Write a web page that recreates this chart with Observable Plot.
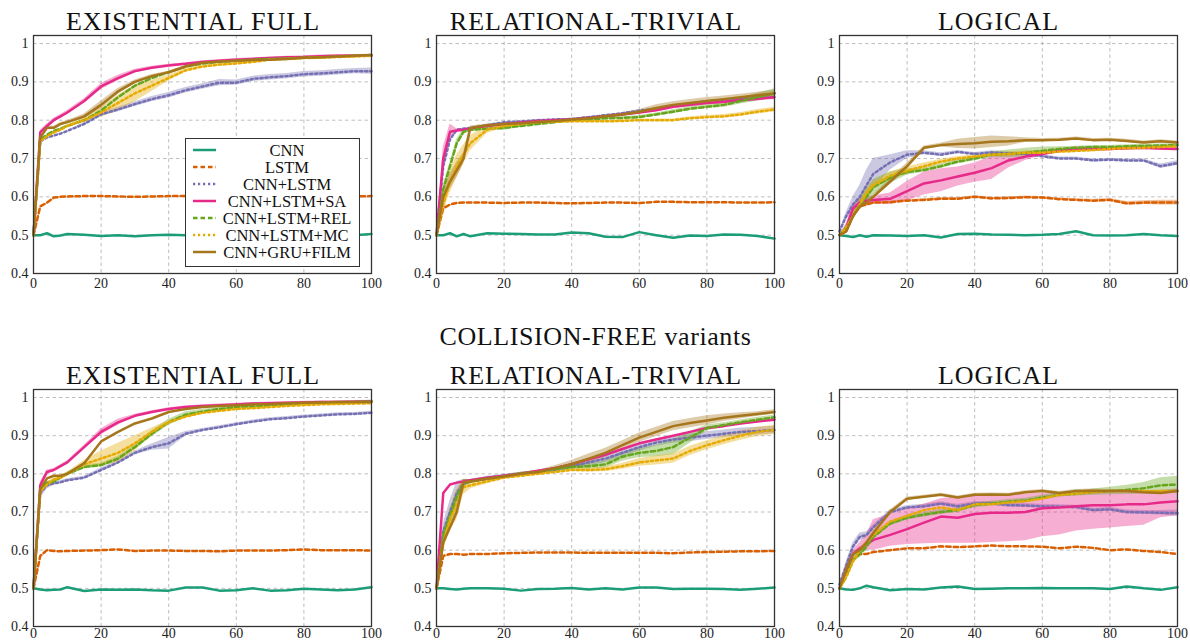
<!DOCTYPE html>
<html><head><meta charset="utf-8">
<script src="https://cdn.jsdelivr.net/npm/d3@7"></script>
<script src="https://cdn.jsdelivr.net/npm/@observablehq/plot@0.6"></script>
<style>
body{margin:0;background:#fff}
#root{position:relative;width:1190px;height:642px;overflow:hidden;font-family:"Liberation Serif",serif}
#root svg{position:absolute}
#root svg text{font-family:"Liberation Serif",serif}
</style></head><body><div id="root"></div>
<script>
const steps = [0,2,4,6,8,10,15,20,25,30,35,40,45,50,55,60,65,70,75,80,85,90,95,100];
const models = ["CNN","LSTM","CNN+LSTM","CNN+LSTM+SA","CNN+LSTM+REL","CNN+LSTM+MC","CNN+GRU+FILM"];
const colors = ["#1b9e77","#d95f02","#7570b3","#e7298a","#66a61e","#e6ab02","#a6761d"];
const dashes = [null,"4.5,3","2.2,2.8",null,"4.5,3","2.2,2.8",null];
const yTicks = [0.4,0.5,0.6,0.7,0.8,0.9,1];
const xTicks = [0,20,40,60,80,100];
const panelTitles = ["EXISTENTIAL FULL","RELATIONAL-TRIVIAL","LOGICAL"];
const sectionTitle = "COLLISION-FREE variants";

// ---- Top row: EXISTENTIAL FULL ----
const efCNN  = [0.5,0.5,0.505,0.497,0.499,0.503,0.501,0.498,0.5,0.497,0.5,0.501,0.5,0.502,0.501,0.5,0.502,0.5,0.501,0.5,0.502,0.501,0.5,0.503];
const efLSTM = [0.5,0.575,0.585,0.598,0.6,0.601,0.602,0.602,0.601,0.6,0.601,0.602,0.602,0.602,0.601,0.602,0.601,0.602,0.602,0.601,0.602,0.602,0.601,0.602];
const efCL   = [0.5,0.745,0.755,0.76,0.765,0.772,0.79,0.815,0.828,0.842,0.855,0.865,0.878,0.888,0.898,0.898,0.908,0.912,0.915,0.92,0.922,0.925,0.928,0.928];
const efSA   = [0.5,0.768,0.785,0.8,0.81,0.82,0.85,0.888,0.91,0.928,0.937,0.943,0.947,0.952,0.955,0.958,0.96,0.962,0.964,0.965,0.967,0.968,0.968,0.968];
const efREL  = [0.5,0.75,0.762,0.772,0.778,0.785,0.8,0.825,0.86,0.89,0.91,0.925,0.94,0.948,0.952,0.955,0.958,0.96,0.961,0.963,0.964,0.966,0.968,0.97];
const efMC   = [0.5,0.745,0.758,0.768,0.775,0.785,0.8,0.82,0.845,0.87,0.89,0.91,0.93,0.94,0.945,0.948,0.952,0.958,0.96,0.962,0.963,0.965,0.966,0.968];
const efFILM = [0.5,0.755,0.78,0.78,0.79,0.795,0.81,0.84,0.875,0.9,0.915,0.925,0.94,0.95,0.953,0.955,0.957,0.958,0.96,0.963,0.964,0.966,0.968,0.97];
const efBandCL = [0,0,0,0,0,0,0.004,0.005,0.006,0.006,0.007,0.007,0.007,0.007,0.008,0.007,0.007,0.007,0.007,0.007,0.007,0.007,0.007,0.008];
const efBandSA = [0,0.005,0.005,0.005,0.005,0.005,0.006,0.008,0.007,0.005,0.004,0.003,0.003,0.003,0.003,0.003,0.003,0.003,0.003,0.003,0.003,0.003,0.003,0.003];
const efBandMC = [0,0.004,0.004,0.004,0.004,0.004,0.006,0.012,0.02,0.022,0.015,0.008,0.005,0.004,0.004,0.004,0.003,0.003,0.003,0.003,0.003,0.003,0.003,0.003];
const efBandFILM = [0,0.004,0.004,0.004,0.004,0.004,0.006,0.01,0.008,0.005,0.004,0.003,0.003,0.003,0.003,0.003,0.003,0.003,0.003,0.003,0.003,0.003,0.003,0.003];

// ---- Top row: RELATIONAL-TRIVIAL ----
const rtCNN  = [0.5,0.5,0.505,0.497,0.503,0.497,0.505,0.504,0.503,0.502,0.502,0.507,0.505,0.496,0.495,0.508,0.5,0.493,0.499,0.498,0.502,0.501,0.498,0.491];
const rtLSTM = [0.5,0.57,0.58,0.584,0.585,0.585,0.585,0.584,0.585,0.585,0.584,0.583,0.584,0.585,0.585,0.584,0.587,0.587,0.586,0.586,0.586,0.585,0.585,0.586];
const rtCL   = [0.5,0.68,0.75,0.775,0.778,0.78,0.787,0.795,0.797,0.8,0.802,0.803,0.808,0.813,0.818,0.825,0.83,0.838,0.843,0.85,0.853,0.855,0.858,0.86];
const rtSA   = [0.5,0.7,0.77,0.773,0.775,0.778,0.785,0.79,0.794,0.798,0.8,0.802,0.806,0.81,0.815,0.82,0.826,0.835,0.84,0.845,0.848,0.852,0.856,0.86];
const rtREL  = [0.5,0.62,0.68,0.74,0.77,0.775,0.778,0.78,0.785,0.79,0.795,0.8,0.802,0.805,0.806,0.808,0.815,0.822,0.83,0.835,0.84,0.85,0.86,0.87];
const rtMC   = [0.5,0.58,0.64,0.68,0.71,0.74,0.775,0.785,0.79,0.795,0.796,0.797,0.797,0.797,0.798,0.8,0.8,0.8,0.805,0.808,0.81,0.815,0.822,0.828];
const rtFILM = [0.5,0.6,0.64,0.67,0.7,0.78,0.787,0.79,0.792,0.795,0.798,0.802,0.805,0.81,0.815,0.822,0.832,0.84,0.845,0.85,0.855,0.86,0.865,0.87];
const rtBandSA = [0,0.03,0.02,0.005,0.004,0.003,0.003,0.003,0.003,0.003,0.003,0.003,0.003,0.003,0.003,0.004,0.004,0.005,0.005,0.005,0.006,0.006,0.006,0.006];
const rtBandMC = [0,0.02,0.03,0.03,0.025,0.02,0.01,0.005,0.004,0.003,0.003,0.003,0.003,0.003,0.003,0.003,0.003,0.003,0.004,0.004,0.005,0.005,0.006,0.006];
const rtBandFILM = [0,0.02,0.02,0.02,0.015,0.005,0.003,0.003,0.003,0.003,0.003,0.003,0.004,0.004,0.005,0.006,0.008,0.008,0.009,0.009,0.008,0.008,0.008,0.008];
const rtBandREL = [0,0.01,0.01,0.01,0.008,0.005,0.004,0.006,0.004,0.003,0.003,0.003,0.003,0.003,0.003,0.004,0.004,0.005,0.005,0.005,0.006,0.008,0.01,0.012];

// ---- Top row: LOGICAL ----
const lgCNN  = [0.5,0.498,0.495,0.5,0.496,0.5,0.499,0.498,0.5,0.494,0.503,0.504,0.502,0.501,0.5,0.501,0.503,0.51,0.5,0.499,0.5,0.503,0.5,0.498];
const lgLSTM = [0.5,0.51,0.55,0.575,0.58,0.585,0.586,0.59,0.592,0.595,0.595,0.6,0.596,0.597,0.599,0.598,0.594,0.592,0.59,0.592,0.583,0.585,0.585,0.585];
const lgCL   = [0.51,0.55,0.58,0.6,0.63,0.66,0.69,0.71,0.715,0.71,0.717,0.712,0.716,0.713,0.712,0.706,0.7,0.7,0.695,0.697,0.695,0.695,0.68,0.688];
const lgSA   = [0.5,0.52,0.57,0.585,0.59,0.592,0.595,0.615,0.635,0.643,0.653,0.663,0.675,0.695,0.705,0.712,0.72,0.725,0.725,0.725,0.727,0.728,0.726,0.725];
const lgREL  = [0.5,0.52,0.55,0.58,0.6,0.625,0.65,0.665,0.67,0.68,0.692,0.7,0.71,0.712,0.715,0.72,0.725,0.728,0.73,0.73,0.732,0.733,0.734,0.735];
const lgMC   = [0.5,0.52,0.55,0.58,0.61,0.63,0.655,0.668,0.68,0.692,0.7,0.705,0.71,0.712,0.715,0.715,0.718,0.72,0.722,0.725,0.727,0.728,0.73,0.732];
const lgFILM = [0.5,0.51,0.55,0.575,0.585,0.6,0.64,0.68,0.728,0.735,0.738,0.74,0.744,0.745,0.748,0.748,0.749,0.752,0.748,0.749,0.746,0.742,0.745,0.742];
const lgBandCL = [0,0.01,0.02,0.03,0.04,0.04,0.02,0.01,0.005,0.005,0.004,0.004,0.004,0.004,0.004,0.004,0.004,0.004,0.004,0.004,0.004,0.004,0.006,0.006];
const lgBandSA = [0,0.01,0.01,0.01,0.01,0.01,0.015,0.025,0.03,0.03,0.025,0.025,0.03,0.02,0.01,0.005,0.005,0.005,0.005,0.005,0.005,0.005,0.005,0.005];
const lgBandFILM = [0,0.005,0.005,0.005,0.005,0.005,0.008,0.008,0.005,0.005,0.012,0.015,0.015,0.012,0.006,0.004,0.004,0.004,0.004,0.004,0.004,0.004,0.004,0.004];
const lgBandREL = [0,0.005,0.01,0.015,0.02,0.02,0.015,0.008,0.006,0.006,0.006,0.006,0.008,0.01,0.012,0.01,0.006,0.004,0.004,0.004,0.004,0.004,0.004,0.004];
const lgBandMC = [0,0.005,0.01,0.012,0.012,0.01,0.01,0.01,0.008,0.006,0.005,0.005,0.005,0.005,0.005,0.005,0.004,0.004,0.004,0.004,0.004,0.004,0.004,0.004];
const lgBandLSTM = [0,0.003,0.003,0.003,0.003,0.003,0.003,0.003,0.003,0.003,0.003,0.003,0.003,0.003,0.003,0.003,0.003,0.003,0.004,0.004,0.005,0.005,0.006,0.006];

// ---- Bottom row (collision-free): EXISTENTIAL FULL ----
const cefCNN  = [0.5,0.497,0.495,0.496,0.497,0.503,0.493,0.497,0.496,0.497,0.495,0.494,0.502,0.502,0.494,0.495,0.5,0.494,0.495,0.499,0.497,0.495,0.497,0.503];
const cefLSTM = [0.5,0.585,0.6,0.598,0.597,0.598,0.599,0.6,0.602,0.598,0.599,0.599,0.598,0.598,0.597,0.599,0.599,0.599,0.6,0.602,0.6,0.6,0.6,0.599];
const cefCL   = [0.5,0.75,0.77,0.775,0.778,0.783,0.79,0.81,0.83,0.855,0.87,0.88,0.905,0.915,0.922,0.93,0.937,0.943,0.946,0.95,0.953,0.956,0.957,0.96];
const cefSA   = [0.5,0.77,0.805,0.81,0.82,0.83,0.87,0.91,0.935,0.952,0.962,0.97,0.975,0.978,0.98,0.982,0.984,0.985,0.986,0.987,0.988,0.988,0.989,0.99];
const cefREL  = [0.5,0.76,0.775,0.78,0.79,0.8,0.818,0.823,0.84,0.87,0.905,0.935,0.955,0.963,0.97,0.975,0.977,0.98,0.982,0.985,0.986,0.987,0.988,0.99];
const cefMC   = [0.5,0.755,0.772,0.785,0.79,0.8,0.825,0.84,0.855,0.88,0.91,0.935,0.95,0.96,0.965,0.97,0.972,0.975,0.978,0.98,0.982,0.983,0.984,0.985];
const cefFILM = [0.5,0.76,0.788,0.795,0.795,0.8,0.828,0.885,0.91,0.932,0.945,0.962,0.97,0.975,0.978,0.98,0.982,0.983,0.985,0.986,0.987,0.988,0.988,0.988];
const cefBandCL = [0,0.015,0.01,0.005,0.004,0.004,0.004,0.005,0.005,0.005,0.008,0.015,0.006,0.004,0.004,0.004,0.004,0.004,0.004,0.004,0.004,0.004,0.004,0.004];
const cefBandSA = [0,0.008,0.005,0.004,0.004,0.004,0.005,0.008,0.008,0.004,0.003,0.003,0.003,0.003,0.003,0.003,0.003,0.003,0.003,0.003,0.003,0.003,0.003,0.003];
const cefBandMC = [0,0.005,0.005,0.005,0.005,0.005,0.01,0.02,0.025,0.02,0.01,0.005,0.004,0.004,0.004,0.004,0.003,0.003,0.003,0.003,0.003,0.003,0.003,0.003];
const cefBandREL = [0,0.005,0.005,0.005,0.005,0.005,0.005,0.005,0.006,0.006,0.008,0.008,0.008,0.006,0.004,0.003,0.003,0.003,0.003,0.003,0.003,0.003,0.003,0.003];

// ---- Bottom row (collision-free): RELATIONAL-TRIVIAL ----
const crtCNN  = [0.5,0.5,0.498,0.497,0.499,0.5,0.5,0.499,0.494,0.498,0.499,0.501,0.497,0.5,0.497,0.502,0.502,0.498,0.499,0.499,0.498,0.496,0.499,0.502];
const crtLSTM = [0.5,0.585,0.59,0.59,0.588,0.59,0.59,0.592,0.593,0.594,0.594,0.594,0.593,0.593,0.593,0.593,0.593,0.592,0.594,0.595,0.596,0.597,0.597,0.598];
const crtCL   = [0.5,0.65,0.7,0.75,0.775,0.78,0.79,0.795,0.8,0.805,0.81,0.82,0.83,0.84,0.855,0.87,0.882,0.89,0.895,0.9,0.905,0.91,0.912,0.915];
const crtSA   = [0.5,0.75,0.772,0.777,0.78,0.783,0.79,0.795,0.8,0.808,0.815,0.825,0.838,0.85,0.865,0.88,0.89,0.9,0.91,0.92,0.925,0.932,0.937,0.942];
const crtREL  = [0.5,0.64,0.69,0.74,0.775,0.78,0.787,0.793,0.8,0.805,0.812,0.818,0.82,0.825,0.845,0.855,0.86,0.87,0.895,0.92,0.928,0.935,0.942,0.948];
const crtMC   = [0.5,0.62,0.68,0.72,0.765,0.77,0.78,0.79,0.795,0.8,0.805,0.81,0.81,0.812,0.82,0.83,0.835,0.84,0.86,0.875,0.888,0.9,0.91,0.915];
const crtFILM = [0.5,0.62,0.66,0.7,0.778,0.78,0.787,0.793,0.8,0.805,0.815,0.825,0.84,0.855,0.875,0.895,0.91,0.925,0.933,0.94,0.947,0.952,0.957,0.962];
const crtBandCL = [0,0.02,0.03,0.03,0.01,0.005,0.004,0.004,0.004,0.004,0.006,0.008,0.01,0.01,0.01,0.01,0.01,0.01,0.01,0.01,0.01,0.01,0.01,0.01];
const crtBandMC = [0,0.02,0.03,0.04,0.02,0.01,0.006,0.004,0.004,0.004,0.004,0.004,0.005,0.006,0.008,0.01,0.012,0.012,0.012,0.012,0.012,0.012,0.012,0.012];
const crtBandREL = [0,0.01,0.015,0.015,0.01,0.005,0.004,0.004,0.004,0.004,0.005,0.006,0.008,0.01,0.012,0.012,0.015,0.02,0.015,0.008,0.006,0.006,0.006,0.006];
const crtBandFILM = [0,0.01,0.01,0.01,0.008,0.005,0.004,0.004,0.004,0.004,0.006,0.01,0.012,0.012,0.012,0.012,0.012,0.012,0.012,0.012,0.01,0.008,0.006,0.006];

// ---- Bottom row (collision-free): LOGICAL ----
const clgCNN  = [0.5,0.497,0.496,0.5,0.507,0.503,0.495,0.498,0.497,0.502,0.505,0.498,0.499,0.5,0.5,0.501,0.5,0.5,0.5,0.498,0.505,0.5,0.496,0.503];
const clgLSTM = [0.5,0.54,0.575,0.59,0.59,0.595,0.6,0.605,0.605,0.61,0.608,0.61,0.612,0.61,0.61,0.609,0.605,0.609,0.606,0.6,0.602,0.598,0.595,0.59];
const clgCL   = [0.51,0.56,0.61,0.635,0.64,0.66,0.7,0.712,0.715,0.722,0.715,0.722,0.722,0.718,0.717,0.715,0.714,0.713,0.705,0.707,0.7,0.699,0.698,0.697];
const clgSA   = [0.5,0.55,0.59,0.605,0.615,0.627,0.64,0.655,0.672,0.688,0.685,0.695,0.698,0.698,0.7,0.71,0.712,0.715,0.718,0.718,0.72,0.72,0.725,0.728];
const clgREL  = [0.5,0.53,0.575,0.59,0.61,0.635,0.67,0.685,0.693,0.7,0.705,0.718,0.722,0.727,0.73,0.738,0.745,0.748,0.752,0.755,0.758,0.762,0.77,0.772];
const clgMC   = [0.5,0.53,0.57,0.6,0.62,0.64,0.675,0.69,0.705,0.712,0.705,0.72,0.72,0.725,0.728,0.735,0.745,0.748,0.752,0.755,0.755,0.755,0.755,0.755];
const clgFILM = [0.5,0.55,0.59,0.6,0.62,0.645,0.7,0.735,0.74,0.745,0.738,0.745,0.746,0.745,0.752,0.755,0.75,0.755,0.756,0.755,0.755,0.752,0.75,0.755];
const clgSALow  = [0.5,0.54,0.58,0.59,0.6,0.6,0.61,0.615,0.617,0.618,0.618,0.618,0.62,0.622,0.625,0.635,0.64,0.65,0.655,0.658,0.662,0.665,0.685,0.69];
const clgSAHigh = [0.5,0.56,0.6,0.62,0.64,0.68,0.695,0.71,0.72,0.735,0.74,0.745,0.745,0.745,0.747,0.75,0.75,0.75,0.752,0.755,0.755,0.755,0.757,0.76];
const clgBandREL = [0,0.005,0.008,0.01,0.01,0.008,0.006,0.006,0.006,0.006,0.006,0.006,0.006,0.006,0.006,0.006,0.006,0.006,0.008,0.01,0.012,0.015,0.02,0.022];
const clgBandCL = [0,0.01,0.01,0.01,0.008,0.006,0.006,0.005,0.005,0.005,0.005,0.005,0.005,0.005,0.005,0.005,0.005,0.005,0.005,0.005,0.005,0.005,0.006,0.008];
const clgBandFILM = [0,0.005,0.005,0.005,0.005,0.005,0.005,0.004,0.004,0.004,0.004,0.004,0.004,0.004,0.004,0.004,0.004,0.004,0.004,0.004,0.004,0.004,0.004,0.004];

const panels = [
  {left:0,   top:33,  inner:238, pad:5, title:panelTitles[0], series:[efCNN,efLSTM,efCL,efSA,efREL,efMC,efFILM],
   bands:[{s:2,spread:efBandCL},{s:3,spread:efBandSA},{s:5,spread:efBandMC},{s:6,spread:efBandFILM}]},
  {left:403, top:33,  inner:238, pad:5, title:panelTitles[1], series:[rtCNN,rtLSTM,rtCL,rtSA,rtREL,rtMC,rtFILM],
   bands:[{s:3,spread:rtBandSA},{s:4,spread:rtBandREL},{s:5,spread:rtBandMC},{s:6,spread:rtBandFILM}]},
  {left:806, top:33,  inner:238, pad:5, title:panelTitles[2], series:[lgCNN,lgLSTM,lgCL,lgSA,lgREL,lgMC,lgFILM],
   bands:[{s:1,spread:lgBandLSTM},{s:2,spread:lgBandCL},{s:3,spread:lgBandSA},{s:4,spread:lgBandREL},{s:5,spread:lgBandMC},{s:6,spread:lgBandFILM}]},
  {left:0,   top:387, inner:237, pad:1.5, title:panelTitles[0], series:[cefCNN,cefLSTM,cefCL,cefSA,cefREL,cefMC,cefFILM],
   bands:[{s:2,spread:cefBandCL},{s:3,spread:cefBandSA},{s:4,spread:cefBandREL},{s:5,spread:cefBandMC}]},
  {left:403, top:387, inner:237, pad:1.5, title:panelTitles[1], series:[crtCNN,crtLSTM,crtCL,crtSA,crtREL,crtMC,crtFILM],
   bands:[{s:2,spread:crtBandCL},{s:4,spread:crtBandREL},{s:5,spread:crtBandMC},{s:6,spread:crtBandFILM}]},
  {left:806, top:387, inner:237, pad:1.5, title:panelTitles[2], series:[clgCNN,clgLSTM,clgCL,clgSA,clgREL,clgMC,clgFILM],
   bands:[{s:2,spread:clgBandCL},{s:3,lo:clgSALow,hi:clgSAHigh},{s:4,spread:clgBandREL},{s:6,spread:clgBandFILM}]}
];

const root = document.getElementById("root");
const mL = 33, mR = 14, mT = 2, innerW = 338;
const serif = "Liberation Serif";

panels.forEach(p => {
  const mB = p.pad + 17;
  const marks = [
    Plot.gridX(xTicks, {stroke:"#888", strokeOpacity:0.55, strokeDasharray:"3.5,3"}),
    Plot.gridY(yTicks, {stroke:"#888", strokeOpacity:0.55, strokeDasharray:"3.5,3"})
  ];
  p.bands.forEach(b => {
    const vals = p.series[b.s];
    const rows = steps.map((x,i) => ({step:x,
      lo: b.lo ? b.lo[i] : vals[i]-b.spread[i],
      hi: b.hi ? b.hi[i] : vals[i]+b.spread[i]}));
    marks.push(Plot.areaY(rows, {x:"step", y1:"lo", y2:"hi", fill:colors[b.s], fillOpacity:0.38}));
  });
  p.series.forEach((vals, s) => {
    const rows = steps.map((x,i) => ({step:x, acc:vals[i], model:models[s]}));
    const opts = {x:"step", y:"acc", stroke:colors[s], strokeWidth:2.5};
    if (dashes[s]) opts.strokeDasharray = dashes[s];
    marks.push(Plot.line(rows, opts));
  });
  marks.push(Plot.axisX(xTicks, {tickSize:0, tickPadding:p.pad, label:null, fontFamily:serif, fontSize:14, fill:"#222"}));
  marks.push(Plot.axisY(yTicks, {tickSize:0, tickPadding:5, label:null, fontFamily:serif, fontSize:14, fill:"#222",
    tickFormat: d => d === 1 ? "1" : d.toFixed(1)}));
  marks.push(Plot.frame({stroke:"#333", strokeWidth:1.3}));
  const svg = Plot.plot({
    width: mL + innerW + mR, height: mT + p.inner + mB,
    marginLeft: mL, marginRight: mR, marginTop: mT, marginBottom: mB,
    x: {domain:[0,100]},
    y: {domain:[0.4,1.021]},
    style: {fontFamily:serif, fontSize:"14px", color:"#222", background:"transparent", overflow:"visible"},
    marks
  });
  svg.setAttribute("font-family", serif);
  svg.style.left = p.left + "px";
  svg.style.top = p.top + "px";
  root.appendChild(svg);
});

// Titles and legend overlay
const ov = d3.select(root).append("svg")
  .attr("width",1190).attr("height",642).style("left","0px").style("top","0px")
  .attr("font-family", serif);
const titlePos = [[193,30],[596,30],[998.5,30],[193,384],[596,384],[998.5,384]];
panels.forEach((p,i) => {
  ov.append("text").attr("x",titlePos[i][0]).attr("y",titlePos[i][1])
    .attr("text-anchor","middle").attr("font-size",26).attr("letter-spacing",1)
    .attr("fill","#111").text(p.title);
});
ov.append("text").attr("x",595.5).attr("y",345).attr("text-anchor","middle")
  .attr("font-size",26).attr("letter-spacing",0.6).attr("fill","#111").text(sectionTitle);

const lg = ov.append("g");
lg.append("rect").attr("x",185.5).attr("y",138.5).attr("width",174).attr("height",128)
  .attr("fill","#fff").attr("stroke","#333").attr("stroke-width",1);
models.forEach((m,i) => {
  const cy = 150 + i*17;
  const ln = lg.append("line").attr("x1",193).attr("x2",216).attr("y1",cy).attr("y2",cy)
    .attr("stroke",colors[i]).attr("stroke-width",2.5);
  if (dashes[i]) ln.attr("stroke-dasharray",dashes[i]);
  lg.append("text").attr("x",287).attr("y",cy+5.5).attr("text-anchor","middle")
    .attr("font-size",16.5).attr("fill","#111").text(m);
});
</script></body></html>
